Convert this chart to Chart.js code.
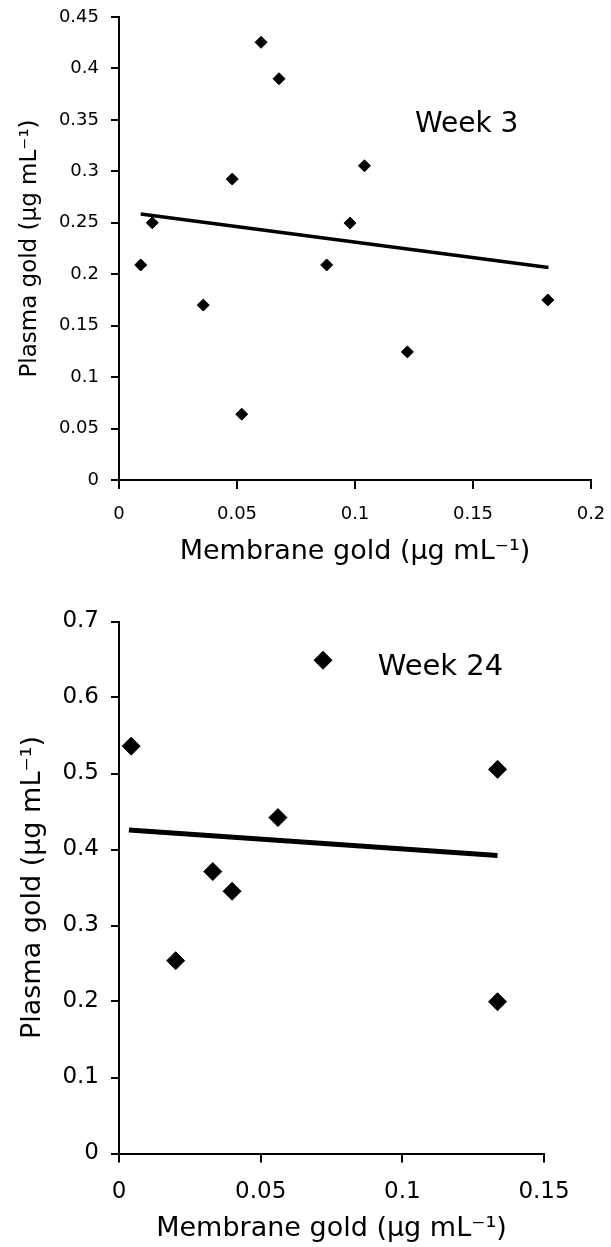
<!DOCTYPE html>
<html>
<head>
<meta charset="utf-8">
<script src="https://cdn.jsdelivr.net/npm/chart.js@4.4.1/dist/chart.umd.min.js"></script>
<style>
  html, body { margin: 0; padding: 0; background: #fff; }
  #wrap { position: relative; width: 611px; height: 1247px; overflow: hidden; }
  canvas { position: absolute; left: 0; }
  #week3 { top: 0; }
  #week24 { top: 580px; }
</style>
</head>
<body>
<div id="wrap">
  <canvas id="week3" width="611" height="580"></canvas>
  <canvas id="week24" width="611" height="667"></canvas>
</div>
<script>
// Week 3: membrane vs plasma gold
const week3Membrane = [0.0092, 0.0141, 0.0357, 0.048, 0.052, 0.0602, 0.0678, 0.088, 0.0979, 0.104, 0.1222, 0.1817];
const week3Plasma   = [0.209, 0.250, 0.170, 0.2925, 0.064, 0.4254, 0.390, 0.209, 0.2497, 0.3054, 0.1245, 0.175];
const week3TrendX = [0.0092, 0.182];
const week3TrendY = [0.2585, 0.2065];
const week3XTicks = [0, 0.05, 0.1, 0.15, 0.2];
const week3YTicks = [0, 0.05, 0.1, 0.15, 0.2, 0.25, 0.3, 0.35, 0.4, 0.45];

// Week 24
const week24Membrane = [0.0043, 0.020, 0.0331, 0.0399, 0.0561, 0.072, 0.1336, 0.1336];
const week24Plasma   = [0.536, 0.2537, 0.371, 0.345, 0.442, 0.649, 0.5055, 0.1997];
const week24TrendX = [0.0035, 0.1336];
const week24TrendY = [0.4257, 0.392];
const week24XTicks = [0, 0.05, 0.1, 0.15];
const week24YTicks = [0, 0.1, 0.2, 0.3, 0.4, 0.5, 0.6, 0.7];

Chart.defaults.font.family = "'DejaVu Sans', sans-serif";
Chart.defaults.color = '#000';

// "Week n" text inside the plot
const weekLabel = {
    id: 'weekLabel',
    afterDatasetsDraw(chart, args, opts) {
        const {ctx, scales: {x, y}} = chart;
        ctx.save();
        ctx.font = opts.size + "px 'DejaVu Sans', sans-serif";
        ctx.fillStyle = '#000';
        ctx.textAlign = 'left';
        ctx.textBaseline = 'middle';
        ctx.fillText(opts.text, x.getPixelForValue(opts.x), y.getPixelForValue(opts.y));
        ctx.restore();
    }
};

function toPoints(xs, ys) {
    return xs.map((v, i) => ({x: v, y: ys[i]}));
}

const fmt = v => String(+Number(v).toFixed(2));

function drawPanel(id, p) {
    new Chart(document.getElementById(id), {
        type: 'scatter',
        data: {
            datasets: [{
                data: toPoints(p.membrane, p.plasma),
                pointStyle: 'rectRot',
                pointRadius: p.marker,
                pointHoverRadius: p.marker,
                backgroundColor: '#000',
                borderColor: '#000',
                borderWidth: 1
            }, {
                data: toPoints(p.trendX, p.trendY),
                showLine: true,
                pointRadius: 0,
                borderColor: '#000',
                borderWidth: p.lineWidth
            }]
        },
        options: {
            responsive: false,
            animation: false,
            layout: { padding: { top: p.padTop, right: p.padRight, left: 0, bottom: 0 } },
            plugins: {
                legend: { display: false },
                tooltip: { enabled: false },
                weekLabel: p.label
            },
            scales: {
                x: {
                    type: 'linear',
                    min: p.xTicks[0],
                    max: p.xTicks[p.xTicks.length - 1],
                    afterBuildTicks: s => { s.ticks = p.xTicks.map(v => ({value: v})); },
                    afterFit: s => { s.height = p.xAxisHeight; s.paddingLeft = 0; s.paddingRight = 0; },
                    grid: { display: true, drawOnChartArea: false, drawTicks: true, tickLength: 9, color: '#000', lineWidth: 2 },
                    border: { display: true, color: '#000', width: 2 },
                    ticks: { font: { size: p.tickSize }, padding: p.xTickPad, color: '#000', maxRotation: 0, autoSkip: false, callback: fmt },
                    title: { display: true, text: 'Membrane gold (µg mL⁻¹)', color: '#000', font: { size: p.titleSize }, padding: { top: 0, bottom: p.xTitlePad } }
                },
                y: {
                    type: 'linear',
                    min: p.yTicks[0],
                    max: p.yTicks[p.yTicks.length - 1],
                    afterBuildTicks: s => { s.ticks = p.yTicks.map(v => ({value: v})); },
                    afterFit: s => { s.width = p.yAxisWidth; s.paddingTop = 0; s.paddingBottom = 0; },
                    grid: { display: true, drawOnChartArea: false, drawTicks: true, tickLength: 8, color: '#000', lineWidth: 2 },
                    border: { display: true, color: '#000', width: 2 },
                    ticks: { font: { size: p.tickSize }, padding: 12, color: '#000', autoSkip: false, callback: fmt },
                    title: { display: true, text: 'Plasma gold (µg mL⁻¹)', color: '#000', font: { size: p.yTitleSize }, padding: { top: p.yTitlePad, bottom: 0 } }
                }
            }
        },
        plugins: [weekLabel]
    });
}

drawPanel('week3', {
    membrane: week3Membrane, plasma: week3Plasma,
    trendX: week3TrendX, trendY: week3TrendY,
    xTicks: week3XTicks, yTicks: week3YTicks,
    padTop: 17, padRight: 20, xAxisHeight: 100, yAxisWidth: 119,
    tickSize: 18, xTickPad: 15, titleSize: 27, xTitlePad: 12,
    yTitleSize: 23, yTitlePad: 16,
    marker: 6, lineWidth: 3.5,
    label: { text: 'Week 3', x: 0.1254, y: 0.345, size: 28 }
});

drawPanel('week24', {
    membrane: week24Membrane, plasma: week24Plasma,
    trendX: week24TrendX, trendY: week24TrendY,
    xTicks: week24XTicks, yTicks: week24YTicks,
    padTop: 41.5, padRight: 67, xAxisHeight: 93.5, yAxisWidth: 119,
    tickSize: 23, xTickPad: 16, titleSize: 27, xTitlePad: 2,
    yTitleSize: 27, yTitlePad: 17,
    marker: 9, lineWidth: 5,
    label: { text: 'Week 24', x: 0.0913, y: 0.639, size: 29 }
});
</script>
</body>
</html>
